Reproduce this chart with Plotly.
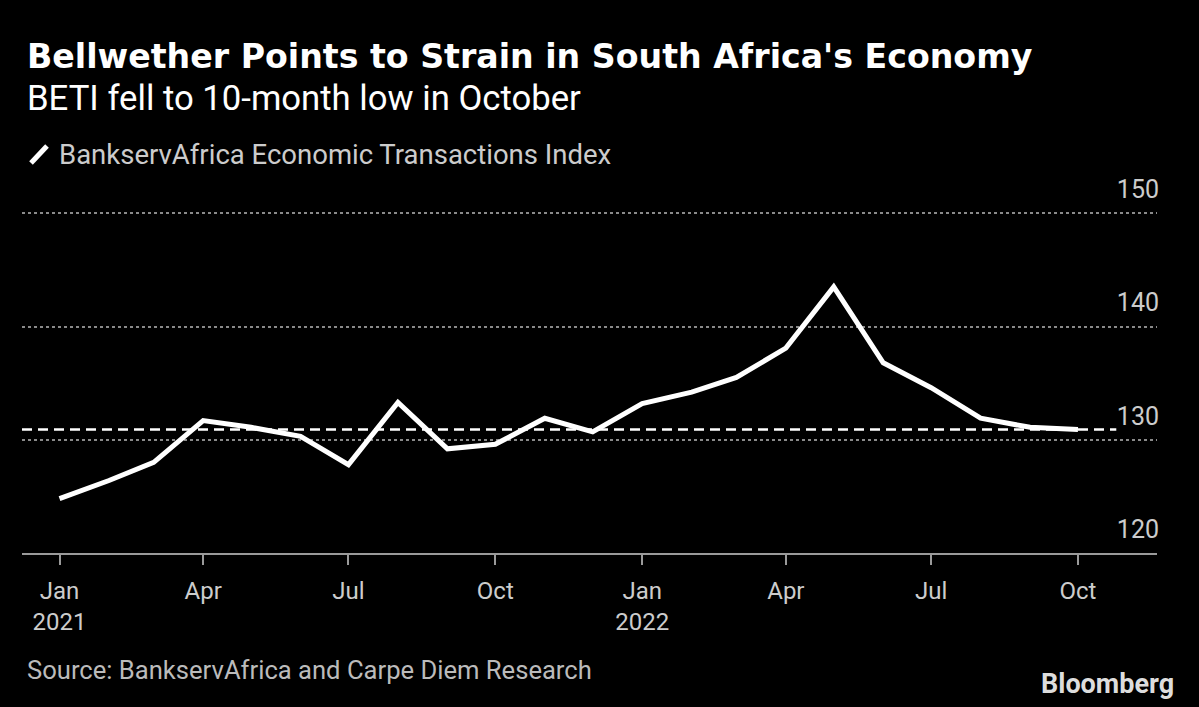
import plotly.graph_objects as go

months = ["2021-01-01", "2021-02-01", "2021-03-01", "2021-04-01", "2021-05-01", "2021-06-01",
          "2021-07-01", "2021-08-01", "2021-09-01", "2021-10-01", "2021-11-01", "2021-12-01",
          "2022-01-01", "2022-02-01", "2022-03-01", "2022-04-01", "2022-05-01", "2022-06-01",
          "2022-07-01", "2022-08-01", "2022-09-01", "2022-10-01"]
beti = [124.8, 126.4, 128.0, 131.7, 131.1, 130.3,
        127.8, 133.3, 129.2, 129.6, 131.9, 130.7,
        133.2, 134.2, 135.5, 138.1, 143.5, 136.8,
        134.6, 131.9, 131.1, 130.9]
tick_vals = ["2021-01-01", "2021-04-01", "2021-07-01", "2021-10-01",
             "2022-01-01", "2022-04-01", "2022-07-01", "2022-10-01"]
tick_text = ["Jan<br>2021", "Apr", "Jul", "Oct", "Jan<br>2022", "Apr", "Jul", "Oct"]
y_ticks = [120, 130, 140, 150]

title = "Bellwether Points to Strain in South Africa's Economy"
subtitle = "BETI fell to 10-month low in October"
series_name = "BankservAfrica Economic Transactions Index"
source = "Source: BankservAfrica and Carpe Diem Research"

x_range = ["2020-12-08 12:00", "2022-11-19 12:00"]
y_range = [120, 154.0]
ref_line_x = [x_range[0], "2022-10-25"]
last_value = beti[-1]

BODY = "Roboto, Arial, sans-serif"
TOP = 168
L, B = 22, 552.7      # plot left / bottom in px
PW, PH = 1135, B - TOP


def px(x):
    return (x - L) / PW


def py(y):
    return (B - y) / PH


fig = go.Figure()
fig.add_trace(go.Scatter(x=ref_line_x, y=[last_value, last_value], mode="lines",
                         line=dict(color="white", width=2.5, dash="10px,6px"),
                         hoverinfo="skip", showlegend=False))
fig.add_trace(go.Scatter(x=months, y=beti, mode="lines", name=series_name,
                         line=dict(color="white", width=5), showlegend=False))

fig.update_layout(
    width=1199, height=707,
    paper_bgcolor="black", plot_bgcolor="black",
    margin=dict(l=22, r=42, t=TOP, b=707 - 553),
    showlegend=False,
    xaxis=dict(type="date", range=x_range, tickvals=tick_vals, ticktext=tick_text,
               showgrid=False, zeroline=False, showline=True, linecolor="#9a9a9a", linewidth=2,
               ticks="outside", ticklen=10, tickwidth=2, tickcolor="#9a9a9a",
               ticklabelstandoff=5,
               tickfont=dict(family=BODY, size=24, color="#cccccc")),
    yaxis=dict(range=y_range, tickvals=y_ticks, side="right",
               ticklabelposition="inside", ticklabelshift=-24, ticklabelstandoff=-5,
               showgrid=True, gridcolor="#8a8a8a", gridwidth=2, griddash="dot",
               zeroline=False, showline=False, ticks="",
               tickfont=dict(family=BODY, size=25, color="#cccccc")),
)

fig.add_annotation(text="<b>" + title + "</b>", xref="paper", yref="paper", x=px(25), y=py(57),
                   xanchor="left", yanchor="middle", showarrow=False,
                   font=dict(family="DejaVu Sans, sans-serif", size=33.2, color="white"))
fig.add_annotation(text=subtitle, xref="paper", yref="paper", x=px(25), y=py(98),
                   xanchor="left", yanchor="middle", showarrow=False,
                   font=dict(family=BODY, size=34.7, color="white"))
fig.add_annotation(text=series_name, xref="paper", yref="paper", x=px(57), y=py(155),
                   xanchor="left", yanchor="middle", showarrow=False,
                   font=dict(family=BODY, size=27.5, color="#cccccc"))
fig.add_shape(type="line", xref="paper", yref="paper",
              x0=px(31), x1=px(47), y0=py(163), y1=py(146),
              line=dict(color="white", width=5))
fig.add_annotation(text=source, xref="paper", yref="paper", x=px(25), y=py(670),
                   xanchor="left", yanchor="middle", showarrow=False,
                   font=dict(family=BODY, size=25.6, color="#bbbbbb"))
fig.add_annotation(text="<b>Bloomberg</b>", xref="paper", yref="paper", x=px(1176), y=py(684),
                   xanchor="right", yanchor="middle", showarrow=False,
                   font=dict(family=BODY, size=27, color="#dddddd"))

fig.write_html("out.html")
